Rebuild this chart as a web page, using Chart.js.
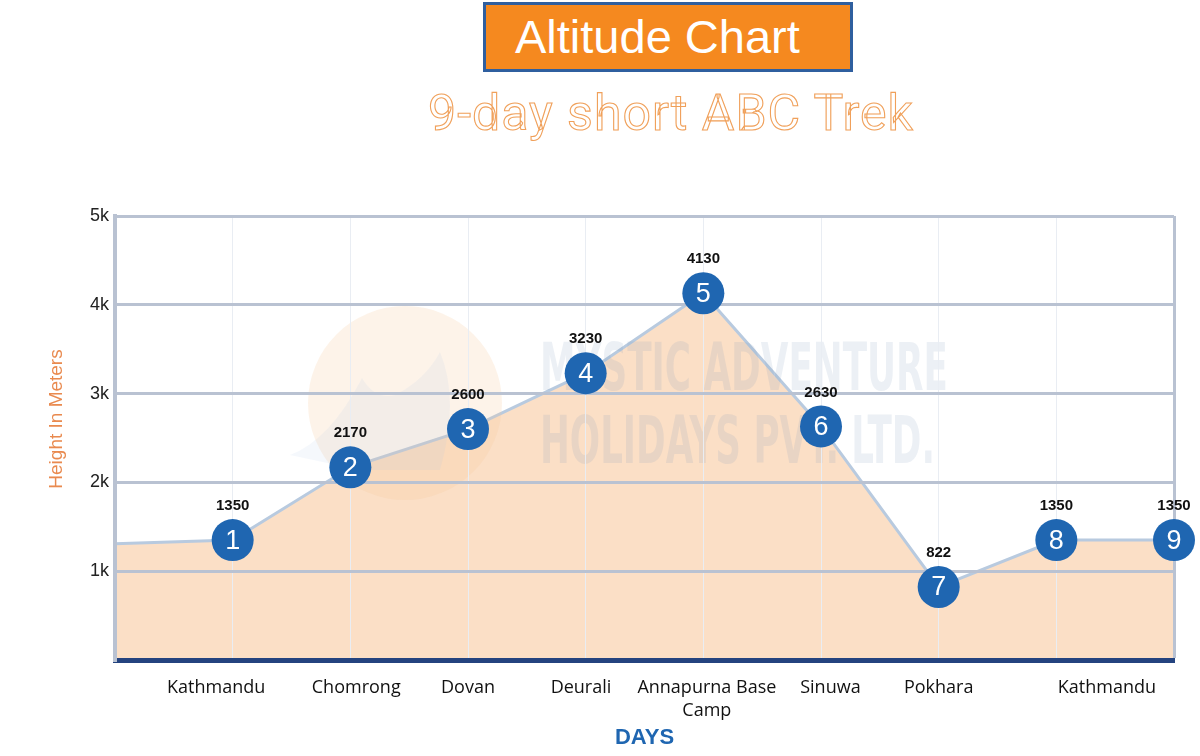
<!DOCTYPE html>
<html>
<head>
<meta charset="utf-8">
<script src="https://cdn.jsdelivr.net/npm/chart.js"></script>
<style>
  html, body { margin: 0; padding: 0; background: #fff; }
  #wrap { position: relative; width: 1200px; height: 756px; overflow: hidden; }
  #altChart { position: absolute; left: 0; top: 0; }
  .head {
    position: absolute; left: 483px; top: 2px; width: 364px; height: 64px;
    background: #f5891f; border: 3px solid #2f5f9f;
    color: #fff; font: 47px "Liberation Sans", Arial, sans-serif; line-height: 64px;
    text-indent: 29px;
  }
  .sub {
    position: absolute; left: 0; width: 1342px; top: 84px; text-align: center;
    font: 400 50px Roboto, "Noto Sans", sans-serif; letter-spacing: 1px;
    color: transparent; -webkit-text-stroke: 1.1px #f0a05a;
  }
</style>
</head>
<body>
<div id="wrap">
  <canvas id="altChart" width="1200" height="756"></canvas>
  <div class="head">Altitude Chart</div>
  <div class="sub">9-day short ABC Trek</div>
</div>
<script>
"use strict";

// altitude at each stop (index 0 is the start of the line, no marker)
const altitudes = [1310, 1350, 2170, 2600, 3230, 4130, 2630, 822, 1350, 1350];
const dayNumbers = [null, 1, 2, 3, 4, 5, 6, 7, 8, 9];

// place names under the axis and where they sit on the day scale
const placeNames = ["Kathmandu", "Chomrong", "Dovan", "Deurali", ["Annapurna Base", "Camp"], "Sinuwa", "Pokhara", "Kathmandu"];
const placeAt = [0.86, 2.05, 3, 3.96, 5.03, 6.08, 7, 8.43];

const gridGrey = "#b9c2d2";
const labelFont = '"Liberation Sans", Arial, sans-serif';
const placeFont = '"Open Sans", "Noto Sans", sans-serif';

// faint company watermark behind the data
const watermark = {
  id: "watermark",
  afterDatasetsDraw(chart) {
    const ctx = chart.ctx;
    ctx.save();
    ctx.globalAlpha = 0.22;
    ctx.fillStyle = "#f7c89c";
    ctx.beginPath();
    ctx.arc(405, 403, 97, 0, Math.PI * 2);
    ctx.fill();
    // mountain shape of the logo
    ctx.globalAlpha = 0.12;
    ctx.fillStyle = "#a9c4e4";
    ctx.beginPath();
    ctx.moveTo(290, 455);
    ctx.quadraticCurveTo(330, 440, 362, 378);
    ctx.quadraticCurveTo(375, 400, 395, 395);
    ctx.quadraticCurveTo(425, 380, 440, 352);
    ctx.quadraticCurveTo(460, 400, 440, 470);
    ctx.lineTo(360, 470);
    ctx.closePath();
    ctx.fill();
    ctx.globalAlpha = 0.15;
    ctx.fillStyle = "#7f98bd";
    ctx.font = 'bold 66px "DejaVu Sans Condensed", "Liberation Sans Narrow", sans-serif';
    ctx.textBaseline = "alphabetic";
    ctx.textAlign = "left";
    ctx.fillText("MYSTIC ADVENTURE", 540, 390, 408);
    ctx.fillText("HOLIDAYS PVT. LTD.", 540, 463, 395);
    ctx.restore();
  }
};

// numbered circles, the altitude above each one, and the y title
const markers = {
  id: "markers",
  afterDraw(chart) {
    const ctx = chart.ctx;
    const meta = chart.getDatasetMeta(0);
    ctx.save();
    ctx.textAlign = "center";
    ctx.textBaseline = "middle";
    meta.data.forEach((pt, i) => {
      if (dayNumbers[i] == null) return;
      ctx.beginPath();
      ctx.arc(pt.x, pt.y, 21, 0, Math.PI * 2);
      ctx.fillStyle = "#1f66b1";
      ctx.fill();
      ctx.fillStyle = "#fff";
      ctx.font = "27px " + labelFont;
      ctx.fillText(String(dayNumbers[i]), pt.x, pt.y + 1);
      ctx.fillStyle = "#111";
      ctx.font = "bold 15px " + labelFont;
      ctx.fillText(String(altitudes[i]), pt.x, pt.y - 34);
    });
    // y axis title, sits a little above the middle of the axis
    ctx.translate(57, 419);
    ctx.rotate(-Math.PI / 2);
    ctx.fillStyle = "#e98a4f";
    ctx.font = "19px " + labelFont;
    ctx.fillText("Height In Meters", 0, 0);
    ctx.restore();
  }
};

var ctx = document.getElementById("altChart").getContext("2d");
var myChart = new Chart(ctx, {
  type: "line",
  data: {
    datasets: [
      {
        data: altitudes.map((v, i) => ({ x: i, y: v })),
        borderColor: "#b8cadf",
        borderWidth: 3,
        backgroundColor: "#fbdfc6",
        fill: "origin",
        tension: 0,
        pointRadius: 0,
        pointHoverRadius: 0
      }
    ]
  },
  options: {
    responsive: false,
    animation: false,
    events: [],
    layout: { padding: { top: 216, right: 26, left: 0, bottom: 0 } },
    plugins: { legend: { display: false }, tooltip: { enabled: false } },
    scales: {
      x: {
        type: "linear",
        position: "bottom",
        min: 0,
        max: 9,
        afterBuildTicks: ax => {
          ax.ticks = altitudes.map((v, i) => ({ value: i }));
        },
        ticks: { display: false },
        grid: {
          z: 1,
          drawTicks: false,
          color: c => (c.index === 9 ? gridGrey : "#e9edf3"),
          lineWidth: c => (c.index === 9 ? 3 : 1)
        },
        border: { z: 1, color: "#24437f", width: 5 },
        afterFit: ax => {
          ax.height = 0;
        }
      },
      places: {
        type: "linear",
        position: "bottom",
        min: 0,
        max: 9,
        afterBuildTicks: ax => {
          ax.ticks = placeAt.map(v => ({ value: v }));
        },
        ticks: {
          callback: (v, i) => placeNames[i],
          font: { family: placeFont, size: 18, lineHeight: 1.25 },
          color: "#111",
          padding: 17,
          maxRotation: 0,
          autoSkip: false
        },
        grid: { display: false, drawTicks: false },
        border: { display: false },
        title: {
          display: true,
          text: "DAYS",
          color: "#1f66b1",
          font: { family: labelFont, size: 22, weight: "bold" },
          padding: { top: 0, bottom: 5 }
        },
        afterFit: ax => {
          ax.height = 96;
        }
      },
      y: {
        min: 0,
        max: 5000,
        ticks: {
          stepSize: 1000,
          callback: v => (v === 0 ? "" : v / 1000 + "k"),
          font: { family: labelFont, size: 18 },
          color: "#222",
          padding: 6
        },
        grid: {
          z: 1,
          drawTicks: false,
          color: c => (c.tick.value === 0 ? "rgba(0,0,0,0)" : gridGrey),
          lineWidth: 3
        },
        border: { z: 1, color: gridGrey, width: 4 },
        afterFit: ax => {
          ax.width = 115;
        }
      }
    }
  },
  plugins: [watermark, markers]
});
</script>
</body>
</html>
